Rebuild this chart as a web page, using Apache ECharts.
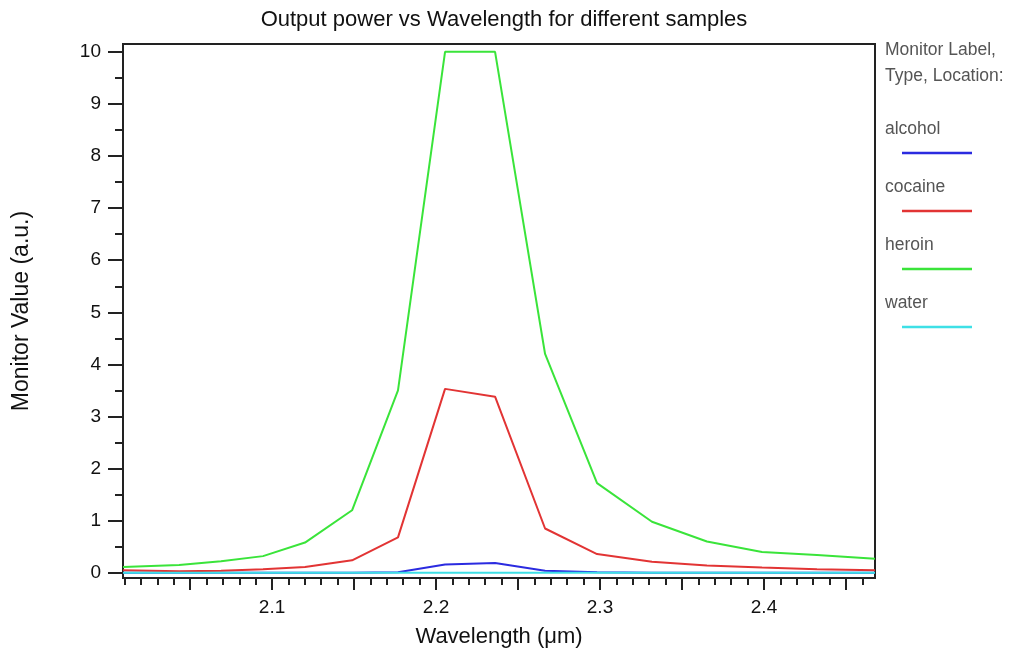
<!DOCTYPE html>
<html>
<head>
<meta charset="utf-8">
<title>Output power vs Wavelength</title>
<script src="https://cdn.jsdelivr.net/npm/echarts@6/dist/echarts.min.js"></script>
<style>
  html, body { margin: 0; padding: 0; background: #fff; }
  #chart { width: 1019px; height: 653px; }
</style>
</head>
<body>
<div id="chart"></div>
<script>
  // sample wavelengths (um)
  var wavelength = [2.0091, 2.0433, 2.0689, 2.0945, 2.1201, 2.1488, 2.1768, 2.2055, 2.2360, 2.2665, 2.2982, 2.3317, 2.3652, 2.3988, 2.4323, 2.4677]
  var alcohol = [0, 0, 0, 0, 0, 0, 0.01, 0.16, 0.19, 0.04, 0.01, 0, 0, 0, 0, 0]
  var cocaine = [0.05, 0.03, 0.04, 0.07, 0.11, 0.24, 0.68, 3.53, 3.38, 0.85, 0.36, 0.21, 0.14, 0.10, 0.07, 0.05]
  var heroin = [0.11, 0.15, 0.22, 0.32, 0.58, 1.20, 3.50, 10.0, 10.0, 4.20, 1.72, 0.98, 0.60, 0.40, 0.34, 0.27]
  var water = [0, 0, 0, 0, 0, 0, 0, 0, 0, 0, 0, 0, 0, 0, 0, 0]

  var seriesNames = ['alcohol', 'cocaine', 'heroin', 'water']
  var seriesColors = ['#2b2be0', '#e23434', '#3ae43a', '#3ee0e6']

  // ticks
  var xLabels = [2.1, 2.2, 2.3, 2.4]
  var xMajorTicks = [2.05, 2.1, 2.15, 2.2, 2.25, 2.3, 2.35, 2.4, 2.45]
  var xMinorTicks = [2.01, 2.02, 2.03, 2.04, 2.06, 2.07, 2.08, 2.09, 2.11, 2.12, 2.13, 2.14,
    2.16, 2.17, 2.18, 2.19, 2.21, 2.22, 2.23, 2.24, 2.26, 2.27, 2.28, 2.29, 2.31, 2.32,
    2.33, 2.34, 2.36, 2.37, 2.38, 2.39, 2.41, 2.42, 2.43, 2.44, 2.46]
  var yLabels = [0, 1, 2, 3, 4, 5, 6, 7, 8, 9, 10]
  var yMinorTicks = [0.5, 1.5, 2.5, 3.5, 4.5, 5.5, 6.5, 7.5, 8.5, 9.5]

  var xMin = 2.0091
  var xMax = 2.4677
  var yMin = -0.1
  var yMax = 10.15

  var font = 'Liberation Sans, Arial, sans-serif'
  var allValues = [alcohol, cocaine, heroin, water]

  var chart = echarts.init(document.getElementById('chart'))

  var series = seriesNames.map(function (name, i) {
    return {
      name: name,
      type: 'line',
      xAxisIndex: 0,
      yAxisIndex: 0,
      showSymbol: false,
      animation: false,
      lineStyle: { color: seriesColors[i], width: 2 },
      itemStyle: { color: seriesColors[i] },
      data: wavelength.map(function (w, k) { return [w, allValues[i][k]] })
    }
  })

  // legend: label text above a short line, like the original
  var legendGraphics = [{
    type: 'text',
    left: 885,
    top: 37,
    style: {
      text: 'Monitor Label,\nType, Location:',
      font: '17.5px ' + font,
      fill: '#555',
      lineHeight: 26
    }
  }]
  seriesNames.forEach(function (name, i) {
    legendGraphics.push({
      type: 'text',
      left: 885,
      top: 120 + 58 * i,
      style: { text: name, font: '17.5px ' + font, fill: '#555' }
    })
    legendGraphics.push({
      type: 'line',
      shape: { x1: 902, y1: 153 + 58 * i, x2: 972, y2: 153 + 58 * i },
      style: { stroke: seriesColors[i], lineWidth: 2.5 }
    })
  })

  var option = {
    animation: false,
    backgroundColor: '#fff',
    title: {
      text: 'Output power vs Wavelength for different samples',
      left: 499,
      textAlign: 'center',
      top: 4,
      textStyle: { fontFamily: font, fontSize: 22, fontWeight: 'normal', color: '#111' }
    },
    grid: {
      left: 123,
      right: 144,
      top: 44,
      bottom: 75,
      show: true,
      borderColor: '#222',
      borderWidth: 2
    },
    xAxis: [
      {
        type: 'value',
        min: xMin,
        max: xMax,
        name: 'Wavelength (\u03bcm)',
        nameLocation: 'middle',
        nameGap: 48,
        nameTextStyle: { fontFamily: font, fontSize: 22, color: '#111' },
        axisLine: { show: true, onZero: false, lineStyle: { color: '#222', width: 2 } },
        axisTick: { show: true, length: 12, customValues: xMajorTicks, lineStyle: { color: '#222', width: 2 } },
        axisLabel: { customValues: xLabels, margin: 20, fontFamily: font, fontSize: 19, color: '#111' },
        splitLine: { show: false }
      },
      {
        type: 'value',
        min: xMin,
        max: xMax,
        position: 'bottom',
        axisLine: { show: false, onZero: false },
        axisTick: { show: true, length: 7, customValues: xMinorTicks, lineStyle: { color: '#222', width: 2 } },
        axisLabel: { show: false },
        splitLine: { show: false }
      }
    ],
    yAxis: [
      {
        type: 'value',
        min: yMin,
        max: yMax,
        name: 'Monitor Value (a.u.)',
        nameLocation: 'middle',
        nameGap: 90,
        nameTextStyle: { fontFamily: font, fontSize: 23, color: '#111' },
        axisLine: { show: true, onZero: false, lineStyle: { color: '#222', width: 2 } },
        axisTick: { show: true, length: 15, customValues: yLabels, lineStyle: { color: '#222', width: 2 } },
        axisLabel: { customValues: yLabels, margin: 22, fontFamily: font, fontSize: 19, color: '#111' },
        splitLine: { show: false }
      },
      {
        type: 'value',
        min: yMin,
        max: yMax,
        position: 'left',
        axisLine: { show: false, onZero: false },
        axisTick: { show: true, length: 8, customValues: yMinorTicks, lineStyle: { color: '#222', width: 2 } },
        axisLabel: { show: false },
        splitLine: { show: false }
      }
    ],
    graphic: legendGraphics,
    series: series
  }

  chart.setOption(option)
</script>
</body>
</html>
